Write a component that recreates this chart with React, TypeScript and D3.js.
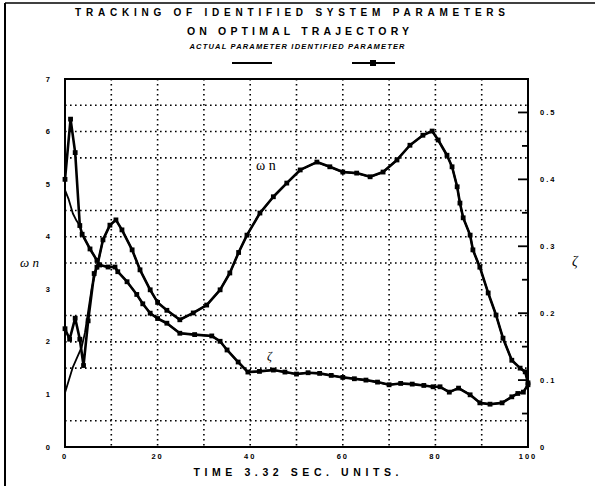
import * as d3 from "d3";

const W = 595;
const H = 486;
const box = { left: 65, right: 528, top: 79, bottom: 447 };

// omega-n: separate start, shared tail after convergence
const wnActualHeadT = [0, 1.7, 3.6, 4.3, 5.8];
const wnActualHead = [1.03, 1.52, 1.9, 2.17, 3.04];
const wnIdentHeadT = [0, 1, 2.2, 3.2, 4, 5, 6.3];
const wnIdentHead = [2.25, 2.05, 2.45, 2.05, 1.55, 2.4, 3.3];
const wnTailT = [6.9, 8.2, 9.7, 11, 12.3, 14.5, 16.2, 18.4, 20, 22, 24.8, 27.7, 30.6, 33.5, 35.6, 37.5, 39.3, 42.1, 45, 47.9, 50.8, 54.4, 57.2, 60, 63, 65.9, 68.7, 71.7, 74.5, 77.3, 79.3, 80.6, 82.5, 83.6, 84.7, 85.3, 86, 87.5, 88.1, 89.6, 91.4, 93.1, 94.6, 96.5, 98.3, 99.4, 100];
const wnTail = [3.42, 3.94, 4.22, 4.32, 4.13, 3.75, 3.37, 2.99, 2.75, 2.6, 2.42, 2.55, 2.7, 2.99, 3.31, 3.7, 4.03, 4.45, 4.76, 5.02, 5.27, 5.42, 5.33, 5.23, 5.21, 5.14, 5.23, 5.46, 5.74, 5.93, 6.01, 5.84, 5.55, 5.33, 4.95, 4.64, 4.36, 4.03, 3.75, 3.42, 2.93, 2.51, 2.07, 1.65, 1.5, 1.43, 1.22];

// zeta
const zActualHeadT = [0, 0.8, 1.7, 2.5];
const zActualHead = [0.384, 0.37, 0.349, 0.338];
const zIdentHeadT = [0, 1.2, 2.2];
const zIdentHead = [0.4, 0.49, 0.44];
const zTailT = [3.2, 3.7, 5.4, 6.9, 7.5, 9.3, 10.8, 11.4, 13.4, 15.5, 16.8, 18.4, 20, 22, 24.8, 28, 31.7, 33.5, 35, 37.4, 39.5, 42, 45, 47.5, 50, 52.5, 55, 57.5, 60, 62.5, 65, 67.5, 70, 72.5, 75, 77.5, 79.5, 81, 83, 85, 87.5, 89.6, 91.8, 94.4, 96.5, 97.8, 99, 100];
const zTail = [0.331, 0.318, 0.296, 0.279, 0.272, 0.269, 0.269, 0.262, 0.247, 0.228, 0.214, 0.2, 0.192, 0.185, 0.17, 0.168, 0.166, 0.158, 0.145, 0.127, 0.112, 0.113, 0.115, 0.112, 0.109, 0.111, 0.11, 0.107, 0.104, 0.102, 0.1, 0.097, 0.093, 0.095, 0.094, 0.092, 0.09, 0.09, 0.082, 0.088, 0.078, 0.066, 0.064, 0.066, 0.075, 0.08, 0.082, 0.093];

const leftTicks = [0, 1, 2, 3, 4, 5, 6, 7];
const rightTicks = [0, 0.1, 0.2, 0.3, 0.4, 0.5];
const rightMinor = [0.05, 0.15, 0.25, 0.35, 0.45];
const xTicks = [0, 20, 40, 60, 80, 100];
const hGrid = [0.5, 1.5, 2, 2.5, 3.5, 4, 4.5, 5.5, 6, 6.5];
const vGrid = [10, 20, 30, 40, 50, 60, 70, 80, 90];

const x = d3.scaleLinear().domain([0, 100]).range([box.left, box.right]);
const yL = d3.scaleLinear().domain([0, 7]).range([box.bottom, box.top]);
const yR = d3.scaleLinear().domain([0, 0.55]).range([box.bottom, box.top]);

const zip = (t: number[], v: number[]) => t.map((d, i) => [d, v[i]] as [number, number]);

export default function App() {
  const wnActual = zip(wnActualHeadT.concat(wnTailT), wnActualHead.concat(wnTail));
  const wnIdent = zip(wnIdentHeadT.concat(wnTailT), wnIdentHead.concat(wnTail));
  const zActual = zip(zActualHeadT.concat(zTailT), zActualHead.concat(zTail));
  const zIdent = zip(zIdentHeadT.concat(zTailT), zIdentHead.concat(zTail));

  const lineL = d3.line<[number, number]>().x(d => x(d[0])).y(d => yL(d[1]));
  const lineR = d3.line<[number, number]>().x(d => x(d[0])).y(d => yR(d[1]));

  const sans = "'Liberation Sans', Arial, sans-serif";
  const serif = "'Liberation Serif', 'DejaVu Serif', serif";

  const markers = (pts: [number, number][], sy: (v: number) => number) =>
    pts.map((d, i) => (
      <rect key={i} x={x(d[0]) - 2.4} y={sy(d[1]) - 2.4} width={4.8} height={4.8} fill="#000" />
    ));

  return (
    <svg width={W} height={H} style={{ position: "absolute", left: 0, top: 0, background: "#fff" }}>
      <rect width={W} height={H} fill="#fff" />
      {/* outer frame */}
      <line x1={5} y1={3} x2={5} y2={H} stroke="#000" strokeWidth={2} />
      <line x1={5} y1={3} x2={W} y2={3} stroke="#000" strokeWidth={1.5} />

      {/* titles */}
      <g fontFamily={sans} fontWeight="bold" fill="#000" textAnchor="middle">
        <text x={290} y={16} fontSize={10} textLength={430} lengthAdjust="spacing">TRACKING OF IDENTIFIED SYSTEM PARAMETERS</text>
        <text x={298} y={35} fontSize={10.5} textLength={222} lengthAdjust="spacing">ON OPTIMAL TRAJECTORY</text>
        <text x={297} y={49} fontSize={7.5} fontStyle="italic" textLength={215} lengthAdjust="spacing">ACTUAL PARAMETER  IDENTIFIED PARAMETER</text>
      </g>
      {/* legend samples */}
      <line x1={232} y1={63} x2={272} y2={63} stroke="#000" strokeWidth={2} />
      <line x1={352} y1={63} x2={395} y2={63} stroke="#000" strokeWidth={2} />
      <rect x={370} y={60} width={6} height={6} fill="#000" />

      {/* grid */}
      <g stroke="#000" strokeWidth={1.6} strokeDasharray="1.6,3.4">
        {hGrid.map(v => (
          <line key={"h" + v} x1={box.left} x2={box.right} y1={yL(v)} y2={yL(v)} />
        ))}
        {vGrid.map(v => (
          <line key={"v" + v} x1={x(v)} x2={x(v)} y1={box.top} y2={box.bottom} />
        ))}
      </g>

      {/* plot box */}
      <rect x={box.left} y={box.top} width={box.right - box.left} height={box.bottom - box.top} fill="none" stroke="#000" strokeWidth={2} />

      {/* right axis ticks */}
      <g stroke="#000" strokeWidth={1.8}>
        {rightTicks.map(v => (
          <line key={"rt" + v} x1={box.right - 10} x2={box.right} y1={yR(v)} y2={yR(v)} />
        ))}
        {rightMinor.map(v => (
          <line key={"rm" + v} x1={box.right - 6} x2={box.right} y1={yR(v)} y2={yR(v)} />
        ))}
      </g>

      {/* tick labels */}
      <g fontFamily={sans} fontWeight="bold" fontSize={7.5} fill="#000">
        {leftTicks.map(v => (
          <text key={"l" + v} x={50} y={yL(v) + 2.5} textAnchor="end">{v}</text>
        ))}
        {rightTicks.map(v => (
          <text key={"r" + v} x={540} y={yR(v) + 2.5} letterSpacing={2}>{v === 0 ? "0" : v.toFixed(1)}</text>
        ))}
        {xTicks.map(v => (
          <text key={"x" + v} x={x(v)} y={459} textAnchor="middle" letterSpacing={2}>{v}</text>
        ))}
      </g>
      <text x={296} y={476} fontFamily={sans} fontWeight="bold" fontSize={10.5} textAnchor="middle" textLength={205} lengthAdjust="spacing">TIME 3.32 SEC. UNITS.</text>

      {/* axis titles */}
      <text x={20} y={267} fontFamily={serif} fontStyle="italic" fontSize={13}>ω n</text>
      <text x={572} y={266} fontFamily={serif} fontStyle="italic" fontSize={14}>ζ</text>
      <text x={256} y={170} fontFamily={serif} fontSize={14}>ω n</text>
      <text x={267} y={360} fontFamily={serif} fontStyle="italic" fontSize={12}>ζ</text>

      {/* curves */}
      <g fill="none" stroke="#000" strokeLinejoin="round">
        <path d={lineL(wnActual) ?? ""} strokeWidth={1.8} />
        <path d={lineL(wnIdent) ?? ""} strokeWidth={2.6} />
        <path d={lineR(zActual) ?? ""} strokeWidth={1.8} />
        <path d={lineR(zIdent) ?? ""} strokeWidth={2.6} />
      </g>
      {markers(wnIdent, yL)}
      {markers(zIdent, yR)}
    </svg>
  );
}
